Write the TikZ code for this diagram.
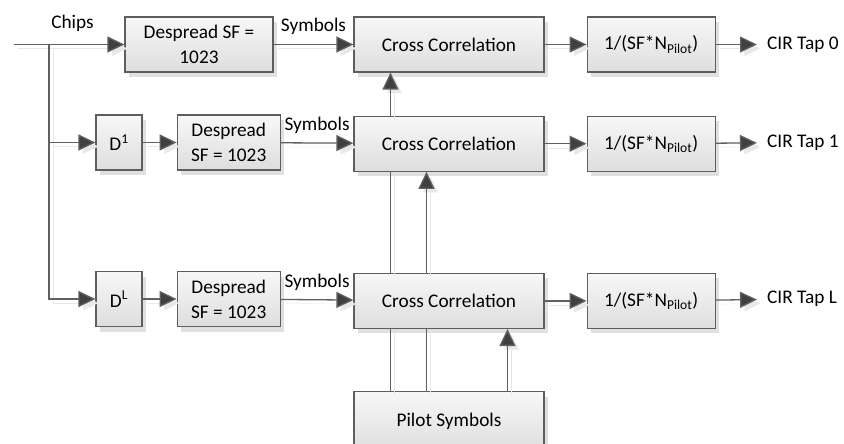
\documentclass[tikz,border=0pt]{standalone}
\usepackage{fontspec}
\setmainfont{Carlito}
\usetikzlibrary{positioning,arrows.meta,shadows}

\definecolor{boxline}{HTML}{5E5E5E}
\definecolor{wirec}{HTML}{606060}
\definecolor{tipc}{HTML}{404040}

\begin{document}
\begin{tikzpicture}[x=1pt, y=-1pt, node distance=34pt,
    font=\fontsize{19.3}{25}\selectfont,
    box/.style={draw=boxline, line width=1.2pt, top color=black!3, bottom color=black!13,
        minimum height=55pt, align=center, inner sep=0pt,
        drop shadow={shadow xshift=4pt, shadow yshift=-5pt, fill=black!12, opacity=1}},
    wire/.style={draw=wirec, line width=1.3pt,
        preaction={draw=black!9, transform canvas={shift={(4pt,-4pt)}}}},
    arr/.style={draw=wirec, line width=1.3pt, -{Triangle[length=17pt,width=16pt,fill=tipc]},
        preaction={draw=black!9, -{Triangle[length=17pt,width=16pt]}, transform canvas={shift={(4pt,-4pt)}}}},
    lbl/.style={inner sep=2pt}]
    \useasboundingbox (0,0) rectangle (844,444);

    % row 0
    \node[box, minimum width=148pt] (desp1) at (199,44.5) {Despread SF =\\1023};
    \node[box, minimum width=190pt] (cross1) at (449,44.5) {Cross Correlation};
    \node[box, minimum width=128pt, right=42pt of cross1] (norm1) {1/(SF*N\textsubscript{Pilot})};
    \node[lbl, anchor=west, inner xsep=10pt] (tap0) at (757,44.5) {CIR Tap 0};

    % row 1
    \node[box, minimum width=46pt] (dly1) at (119,142.5) {D\textsuperscript{1}};
    \node[box, minimum width=103pt, right=of dly1] (desp2) {Despread\\SF = 1023};
    \node[box, minimum width=190pt, below=43pt of cross1] (cross2) {Cross Correlation};
    \node[box, minimum width=128pt, below=43pt of norm1] (norm2) {1/(SF*N\textsubscript{Pilot})};
    \node[lbl, anchor=west, inner xsep=10pt] (tap1) at (757,142.5) {CIR Tap 1};

    % row L
    \node[box, minimum width=46pt] (dly2) at (119,299) {D\textsuperscript{L}};
    \node[box, minimum width=103pt, right=of dly2] (desp3) {Despread\\SF = 1023};
    \node[box, minimum width=190pt, below=101pt of cross2] (cross3) {Cross Correlation};
    \node[box, minimum width=128pt, below=101pt of norm2] (norm3) {1/(SF*N\textsubscript{Pilot})};
    \node[lbl, anchor=west, inner xsep=10pt] (tap2) at (757,299) {CIR Tap L};

    \node[box, minimum width=190pt, minimum height=60pt, below=62pt of cross3] (pilot) {Pilot Symbols};

    % chips in
    \coordinate (in) at (14,44.5);
    \coordinate (split) at (49,44.5);
    \draw[arr] (in) -- node[lbl, above=10.5pt, pos=0.53] {Chips} (desp1);
    \draw[arr] (split) |- (dly2);
    \draw[arr] (split |- dly1) -- (dly1);

    \draw[arr] (dly1) -- (desp2);
    \draw[arr] (dly2) -- (desp3);
    \draw[arr] (desp1) -- node[lbl, above=7pt] {Symbols} (cross1);
    \draw[arr] (desp2) -- node[lbl, above=7pt] {Symbols} (cross2);
    \draw[arr] (desp3) -- node[lbl, above=7pt] {Symbols} (cross3);

    \draw[arr] (cross1) -- (norm1);
    \draw[arr] (cross2) -- (norm2);
    \draw[arr] (cross3) -- (norm3);
    \draw[arr] (norm1) -- (tap0);
    \draw[arr] (norm2) -- (tap1);
    \draw[arr] (norm3) -- (tap2);

    % pilot feeds
    \draw[wire] ([xshift=-58.5pt]pilot.north) -- ([xshift=-58.5pt]cross3.south);
    \draw[wire] ([xshift=-58.5pt]cross3.north) -- ([xshift=-58.5pt]cross2.south);
    \draw[arr] ([xshift=-58.5pt]cross2.north) -- ([xshift=-58.5pt]cross1.south);
    \draw[wire] ([xshift=-22.5pt]pilot.north) -- ([xshift=-22.5pt]cross3.south);
    \draw[arr] ([xshift=-22.5pt]cross3.north) -- ([xshift=-22.5pt]cross2.south);
    \draw[arr] ([xshift=58.5pt]pilot.north) -- ([xshift=58.5pt]cross3.south);
\end{tikzpicture}
\end{document}
